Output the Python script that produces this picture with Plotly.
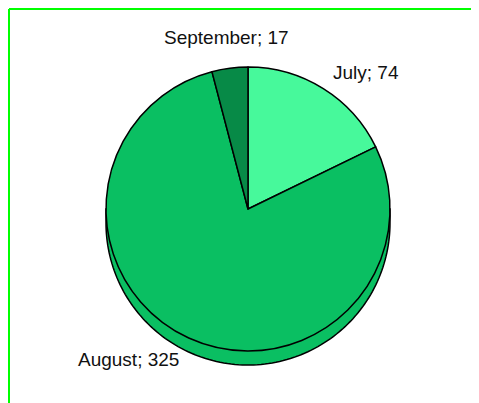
import numpy as np
import plotly.graph_objects as go

# ---- data ----
months = ["July", "August", "September"]
counts = [74, 325, 17]
slice_colors = ["#47F99B", "#0ABF62", "#078A47"]

# ---- layout geometry (window pixels) ----
W, H = 479, 403
OFF = 8                         # page body margin around the plot div
cx, cy, r = 248, 209, 142       # pie centre / radius in window pixels (from top)
depth = 14                      # 3D side depth

def px(x):
    return (x - OFF) / W

def py(y):
    return 1 - (y - OFF) / H

# label placement (window-pixel centres of the text)
label_pos = {"July": (366, 73), "August": (129, 359), "September": (226.5, 37.5)}

fig = go.Figure()
fig.add_trace(go.Pie(
    labels=months,
    values=counts,
    sort=False,
    direction="clockwise",
    rotation=0,
    marker=dict(colors=slice_colors, line=dict(color="black", width=1.5)),
    textinfo="none",
    hoverinfo="label+value",
    showlegend=False,
    domain=dict(x=[px(cx - r), px(cx + r)], y=[py(cy + r), py(cy - r)]),
))

# 3D side of the pie (lower half rim), drawn beneath the pie
theta = np.linspace(np.pi, 0, 120)
pts = [(cx - r, cy)]
for t in theta:
    pts.append((cx + r * np.cos(t), cy + depth + r * np.sin(t)))
pts.append((cx + r, cy))
path = "M " + " L ".join(f"{px(x):.5f},{py(y):.5f}" for x, y in pts) + " Z"
fig.add_shape(type="path", path=path, xref="paper", yref="paper",
              fillcolor=slice_colors[1], line=dict(color="black", width=1.5),
              layer="below")

# green frame (top and left edges)
fig.add_shape(type="line", xref="paper", yref="paper",
              x0=px(9), x1=px(W + 20), y0=py(9), y1=py(9),
              line=dict(color="#00FF00", width=2))
fig.add_shape(type="line", xref="paper", yref="paper",
              x0=px(9), x1=px(9), y0=py(9), y1=py(H + 20),
              line=dict(color="#00FF00", width=2))

for m, v in zip(months, counts):
    lx, ly = label_pos[m]
    fig.add_annotation(x=px(lx), y=py(ly), xref="paper", yref="paper",
                       text=f"{m}; {v}", showarrow=False,
                       xanchor="center", yanchor="middle",
                       font=dict(family="Liberation Sans, Arial", size=19, color="#111111"))

fig.update_layout(width=W, height=H, margin=dict(l=0, r=0, t=0, b=0),
                  paper_bgcolor="white", plot_bgcolor="white")
fig.write_html("out.html")
